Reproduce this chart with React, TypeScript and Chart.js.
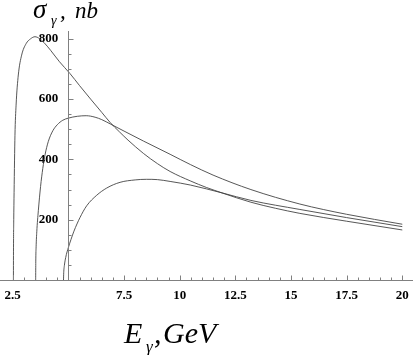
import React, { useEffect, useRef } from 'react';
import { Chart, registerables } from 'chart.js';

Chart.register(...registerables);

// Curve A (highest peak)
const energyA = [2.53, 2.535, 2.545, 2.56, 2.6, 2.65, 2.75, 2.9, 3.1, 3.3, 3.5, 3.7, 3.9, 4.2, 4.6, 5.07, 5.5, 6.0, 6.5, 6.87, 7.3, 7.68, 8.37, 9.0, 9.57, 10.5, 11.2, 11.9, 13.2, 14.3, 15.4, 17.5, 20];
const sigmaA = [0, 120, 200, 290, 480, 580, 680, 746, 784, 800, 807, 801, 788, 762, 724, 685, 645, 600, 556, 523, 491, 464, 420, 386, 360, 328, 307, 289, 258, 238, 221, 195, 166];

// Curve B (middle peak)
const energyB = [3.53, 3.535, 3.55, 3.58, 3.65, 3.75, 3.85, 3.95, 4.1, 4.3, 4.5, 4.75, 5.0, 5.4, 5.8, 6.2, 6.5, 6.9, 7.5, 8.37, 9.57, 10.48, 11.5, 13.2, 15.4, 17.5, 20];
const sigmaB = [0, 60, 110, 160, 230, 310, 370, 415, 460, 495, 515, 530, 537, 543, 545, 540, 532, 517, 494, 461, 417, 383, 348, 300, 252, 218, 185];

// Curve C (lowest peak)
const energyC = [4.78, 4.79, 4.82, 4.88, 5.0, 5.12, 5.25, 5.52, 5.82, 6.27, 6.72, 7.32, 8.0, 8.5, 9.0, 9.57, 10.48, 11.9, 13.2, 15.4, 17.5, 20];
const sigmaC = [0, 24, 48, 75, 108, 135, 162, 207, 246, 281, 305, 324, 332, 334, 333, 327, 315, 289, 264, 234, 207, 177];

const xTickLabels = [2.5, 7.5, 10, 12.5, 15, 17.5, 20];
const yTickLabels = [200, 400, 600, 800];
const xMinorStep = 0.5;
const xMajorStep = 2.5;
const xTickStart = 2.5;
const xTickEnd = 20;
const yMinorStep = 50;
const yMajorStep = 200;
const yTickEnd = 800;
const axisCrossX = 5;
const yLabelAnchorX = 4.55; // where the right edge of the y tick labels sits, in x units

const LINE = '#444444';
const AXIS = '#808080';

const toPoints = (xs: number[], ys: number[]) => xs.map((x, i) => ({ x, y: ys[i] }));

const decor = {
  id: 'decor',
  afterDraw(chart: any) {
    const { ctx, scales, chartArea } = chart;
    const xs = scales.x;
    const ys = scales.y;
    const x0 = Math.round(xs.getPixelForValue(axisCrossX)) + 0.5;
    const yb = Math.round(ys.getPixelForValue(0)) + 0.5;
    ctx.save();
    ctx.strokeStyle = AXIS;
    ctx.lineWidth = 1;
    ctx.beginPath();
    // vertical axis at x = axisCrossX
    ctx.moveTo(x0, yb);
    ctx.lineTo(x0, chartArea.top);
    const nx = Math.round((xTickEnd - xTickStart) / xMinorStep);
    for (let i = 0; i <= nx; i++) {
      const v = xTickStart + i * xMinorStep;
      const r = v / xMajorStep;
      const major = Math.abs(r - Math.round(r)) < 1e-6;
      const px = Math.round(xs.getPixelForValue(v)) + 0.5;
      ctx.moveTo(px, yb);
      ctx.lineTo(px, yb - (major ? 5 : 3));
    }
    const ny = Math.round(yTickEnd / yMinorStep);
    for (let i = 1; i <= ny; i++) {
      const v = i * yMinorStep;
      const major = v % yMajorStep === 0;
      const py = Math.round(ys.getPixelForValue(v)) + 0.5;
      ctx.moveTo(x0, py);
      ctx.lineTo(x0 + (major ? 5 : 3), py);
    }
    ctx.stroke();

    ctx.fillStyle = '#000';
    ctx.textBaseline = 'alphabetic';
    ctx.textAlign = 'left';
    // top title: σγ, nb
    ctx.font = 'italic 27px "Liberation Serif"';
    ctx.fillText('σ', 33, 18);
    ctx.font = 'italic 14px "Liberation Serif"';
    ctx.fillText('γ', 51, 25);
    ctx.font = 'italic 23px "Liberation Serif"';
    ctx.fillText(',', 60, 18);
    ctx.fillText('nb', 75, 18);
    // bottom title: Eγ, GeV
    ctx.font = 'italic 30px "Liberation Serif"';
    ctx.fillText('E', 124, 343);
    ctx.font = 'italic 17px "Liberation Serif"';
    ctx.fillText('γ', 146, 352);
    ctx.font = 'italic 30px "Liberation Serif"';
    ctx.fillText(',', 154, 343);
    ctx.fillText('GeV', 163, 343);
    ctx.restore();
  },
};

export default function App() {
  const ref = useRef<HTMLCanvasElement | null>(null);
  useEffect(() => {
    if (!ref.current) return;
    const ds = (xs: number[], ys: number[]) => ({
      data: toPoints(xs, ys),
      borderColor: LINE,
      borderWidth: 0.9,
      pointRadius: 0,
      fill: false,
      cubicInterpolationMode: 'monotone' as const,
    });
    const chart = new Chart(ref.current, {
      type: 'line',
      data: {
        datasets: [ds(energyA, sigmaA), ds(energyB, sigmaB), ds(energyC, sigmaC)],
      },
      options: {
        animation: false,
        responsive: false,
        layout: { padding: { top: 31, left: 0.5, right: 2.7, bottom: 0 } },
        plugins: { legend: { display: false }, tooltip: { enabled: false }, title: { display: false } },
        scales: {
          x: {
            type: 'linear',
            min: 1.95,
            max: 20.45,
            grid: { display: false },
            border: { display: true, color: AXIS, width: 1 },
            afterBuildTicks: (scale: any) => {
              scale.ticks = xTickLabels.map((v) => ({ value: v }));
            },
            afterFit: (scale: any) => {
              scale.height = 75;
            },
            ticks: {
              autoSkip: false,
              maxRotation: 0,
              padding: 0,
              color: '#000',
              font: { family: '"Liberation Serif"', size: 13, weight: 'bold' },
              callback: (v: any) => String(v),
            },
          },
          y: {
            type: 'linear',
            min: 0,
            max: 826,
            position: { x: yLabelAnchorX } as any,
            grid: { display: false },
            border: { display: false },
            afterBuildTicks: (scale: any) => {
              scale.ticks = yTickLabels.map((v) => ({ value: v }));
            },
            ticks: {
              autoSkip: false,
              padding: 0,
              color: '#000',
              font: { family: '"Liberation Serif"', size: 13, weight: 'bold' },
              callback: (v: any) => String(v),
            },
          },
        },
      },
      plugins: [decor],
    });
    return () => chart.destroy();
  }, []);
  return (
    <div style={{ position: 'absolute', left: 0, top: 0, width: 415, height: 355, background: '#fff' }}>
      <canvas ref={ref} width={415} height={355} style={{ display: 'block' }} />
    </div>
  );
}
